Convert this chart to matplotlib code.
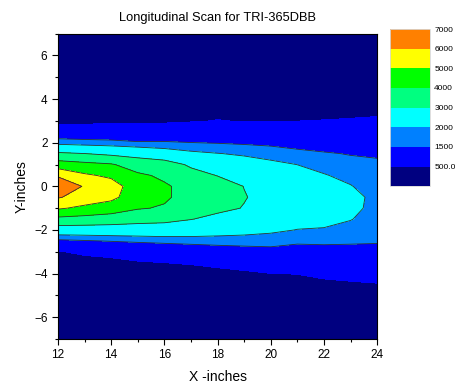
import numpy as np
import matplotlib
matplotlib.use('Agg')
import matplotlib.pyplot as plt
from matplotlib.colors import ListedColormap, BoundaryNorm
from matplotlib.ticker import MultipleLocator

plt.rcParams['font.family'] = ['Liberation Sans', 'DejaVu Sans']

# scan positions
x_in = [12, 13, 14, 15, 16, 17, 18, 19, 20, 21, 22, 23, 24]
y_in = [-7, -6, -5, -4, -3, -2.5, -2, -1.5, -1, -0.5, 0, 0.5, 1, 1.5, 2, 2.5, 3, 4, 5, 6, 7]

# readings, one list per x position (y from -7 to 7)
c12 = [150, 150, 160, 250, 480, 1380, 2500, 3750, 5120, 6080, 6900, 5860, 4470, 3140, 1800, 980, 250, 200, 170, 160, 150]
c13 = [150, 150, 160, 200, 560, 1460, 2500, 3650, 4780, 5600, 5900, 5150, 4250, 3010, 1720, 980, 300, 200, 170, 160, 150]
c14 = [150, 150, 160, 180, 620, 1540, 2500, 3530, 4500, 5250, 5450, 4820, 4080, 2810, 1670, 980, 330, 200, 170, 160, 150]
c15 = [150, 150, 160, 150, 760, 1620, 2490, 3360, 4070, 4400, 4450, 4150, 3560, 2650, 1560, 980, 350, 200, 170, 160, 150]
c16 = [150, 150, 160, 150, 850, 1690, 2480, 3270, 3920, 4120, 4100, 3850, 3420, 2380, 1570, 970, 380, 200, 170, 160, 150]
c17 = [150, 150, 160, 150, 1000, 1730, 2410, 3030, 3360, 3680, 3730, 3320, 2860, 2140, 1510, 970, 450, 200, 170, 160, 150]
c18 = [150, 150, 160, 270, 1120, 1760, 2290, 2770, 3200, 3420, 3400, 2975, 2500, 2020, 1470, 1010, 520, 200, 170, 160, 150]
c19 = [150, 150, 160, 380, 1220, 1760, 2210, 2590, 2965, 3040, 2985, 2640, 2290, 1920, 1420, 940, 470, 200, 170, 160, 150]
c20 = [150, 150, 160, 495, 1300, 1740, 2110, 2400, 2680, 2740, 2700, 2420, 2140, 1790, 1370, 920, 480, 200, 170, 160, 150]
c21 = [150, 150, 180, 510, 1240, 1610, 1985, 2220, 2450, 2530, 2450, 2230, 1995, 1650, 1280, 890, 495, 200, 170, 160, 150]
c22 = [100, 100, 100, 630, 1300, 1610, 1960, 2150, 2240, 2330, 2230, 2040, 1800, 1550, 1220, 880, 515, 200, 170, 160, 150]
c23 = [100, 100, 130, 700, 1340, 1570, 1800, 2030, 2200, 2250, 2030, 1840, 1660, 1470, 1170, 870, 540, 200, 170, 160, 150]
c24 = [100, 100, 220, 720, 1420, 1525, 1630, 1730, 1780, 1790, 1730, 1640, 1580, 1440, 1130, 870, 600, 100, 100, 100, 100]

levels = [0, 500, 1500, 2000, 3000, 4000, 5000, 6000, 7000]
level_labels = ['500.0', '1500', '2000', '3000', '4000', '5000', '6000', '7000']
band_colors = ['#000080', '#0000ff', '#0080ff', '#00ffff', '#00ff80', '#00ff00', '#ffff00', '#ff8000']

Z = np.array([c12, c13, c14, c15, c16, c17, c18, c19, c20, c21, c22, c23, c24]).T
X, Y = np.meshgrid(x_in, y_in)

cmap = ListedColormap(band_colors)
norm = BoundaryNorm(levels, cmap.N)

fig = plt.figure(figsize=(4.56, 3.87), dpi=100)
ax = fig.add_axes([0.127, 0.124, 0.700, 0.789])

cf = ax.contourf(X, Y, Z, levels=levels, cmap=cmap, norm=norm)
ax.contour(X, Y, Z, levels=levels[2:-1], colors='#303030', linewidths=0.6)

ax.set_xlim(12, 24)
ax.set_ylim(-7, 7)
ax.xaxis.set_major_locator(MultipleLocator(2))
ax.xaxis.set_minor_locator(MultipleLocator(1))
ax.yaxis.set_major_locator(MultipleLocator(2))
ax.yaxis.set_minor_locator(MultipleLocator(1))
ax.tick_params(which='major', direction='out', length=4, width=0.8, labelsize=8.5)
ax.tick_params(which='minor', direction='out', length=2.5, width=0.8)
for s in ax.spines.values():
    s.set_linewidth(0.8)

ax.set_title('Longitudinal Scan for TRI-365DBB', fontsize=9.3, pad=9)
ax.set_xlabel('X -inches', fontsize=10, labelpad=6)
ax.set_ylabel('Y-inches', fontsize=10, labelpad=4)

# legend bar, equal height per band
cax = fig.add_axes([0.855, 0.519, 0.088, 0.406])
cb = fig.colorbar(cf, cax=cax, spacing='uniform', ticks=levels[1:])
cb.ax.set_yticklabels(level_labels)
cb.ax.minorticks_off()
cb.ax.tick_params(length=0, labelsize=6, pad=3)
cb.outline.set_edgecolor('#d8d8d8')
cb.outline.set_linewidth(0.6)

fig.savefig('out.png', dpi=100)
